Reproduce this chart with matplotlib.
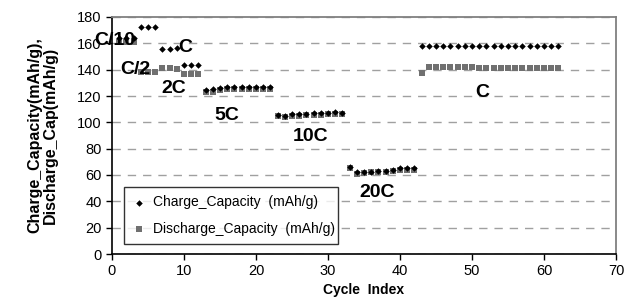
import matplotlib
matplotlib.use("Agg")
import matplotlib.pyplot as plt

plt.rcParams['font.family'] = ['Liberation Sans', 'DejaVu Sans']

cycles = list(range(1, 63))
charge = [164, 164, 164,
          172.5, 172.5, 172.5,
          156, 156, 156.5,
          143.5, 143.5, 143.5,
          124.5, 125.5, 126, 126.5, 126.5, 127, 127, 127, 127, 127,
          105.5, 105, 106, 106.5, 106.5, 107, 107, 107, 107.5, 107,
          66, 62, 62.5, 62.5, 63, 63, 63.5, 65, 65.5, 65,
          158, 158, 158, 158, 158, 158, 158, 158, 158, 158,
          158, 158, 158, 158, 158, 158, 158, 158, 158, 158]
discharge = [161, 161, 161,
             138.5, 138.5, 138.5,
             141, 141, 140.5,
             136.5, 136.5, 136.5,
             123, 123, 124.5, 125, 125, 125.5, 125.5, 125.5, 125.5, 125.5,
             105, 104, 105, 105, 105.5, 105.5, 105.5, 106, 106, 106,
             65.5, 61, 61.5, 62, 62, 62.5, 63, 64, 64, 64,
             137.5, 142, 142, 142, 142, 142, 142, 142, 141.5, 141.5,
             141.5, 141.5, 141.5, 141.5, 141.5, 141.5, 141.5, 141.5, 141.5, 141.5]

rate_labels = ["C/10", "C/2", "C", "2C", "5C", "10C", "20C", "C"]
label_pos = [(-2.4, 162.5), (1.2, 140), (9.2, 157), (6.9, 126), (14.2, 105.5), (25.1, 89), (34.4, 47), (50.5, 123)]

fig = plt.figure(figsize=(6.31, 3.05), dpi=100)
ax = fig.add_axes([112/631, 1-254/305, (616-112)/631, (254-17)/305])

ax.scatter(cycles, charge, marker='D', s=11, color='black', zorder=3,
           label='Charge_Capacity  (mAh/g)', linewidths=0)
ax.scatter(cycles, discharge, marker='s', s=17, color='#707070', zorder=2,
           label='Discharge_Capacity  (mAh/g)', linewidths=0)

for t, (x, y) in zip(rate_labels, label_pos):
    ax.text(x, y, t, fontsize=14, fontweight='bold', ha='left', va='center', zorder=5, clip_on=False)

ax.set_xlim(0, 70)
ax.set_ylim(0, 180)
ax.set_xticks(range(0, 71, 10))
ax.set_yticks(range(0, 181, 20))
ax.tick_params(labelsize=10.5, direction='out', length=4, width=1)
ax.yaxis.grid(True, linestyle=(0, (6, 5)), color='#a0a0a0', linewidth=1)
ax.set_axisbelow(True)
for s in ['top', 'right']:
    ax.spines[s].set_color('#808080')
    ax.spines[s].set_linewidth(1.3)
for s in ['left', 'bottom']:
    ax.spines[s].set_linewidth(1.2)

ax.set_xlabel('Cycle  Index', fontsize=10, fontweight='bold', labelpad=3)
ax.set_ylabel('Charge_Capacity(mAh/g),\nDischarge_Cap(mAh/g)', fontsize=11.5, fontweight='bold',
              labelpad=14, linespacing=1.05)

leg = ax.legend(loc='lower left', bbox_to_anchor=(5/504, 3/237, 228/504, 64/237), mode='expand',
                fontsize=10, frameon=True, fancybox=False, edgecolor='black',
                handletextpad=0.5, borderpad=0.6, labelspacing=0.9, markerscale=1.0, handlelength=1.0)
leg.get_frame().set_linewidth(1.0)

fig.savefig('out.png', dpi=100)
